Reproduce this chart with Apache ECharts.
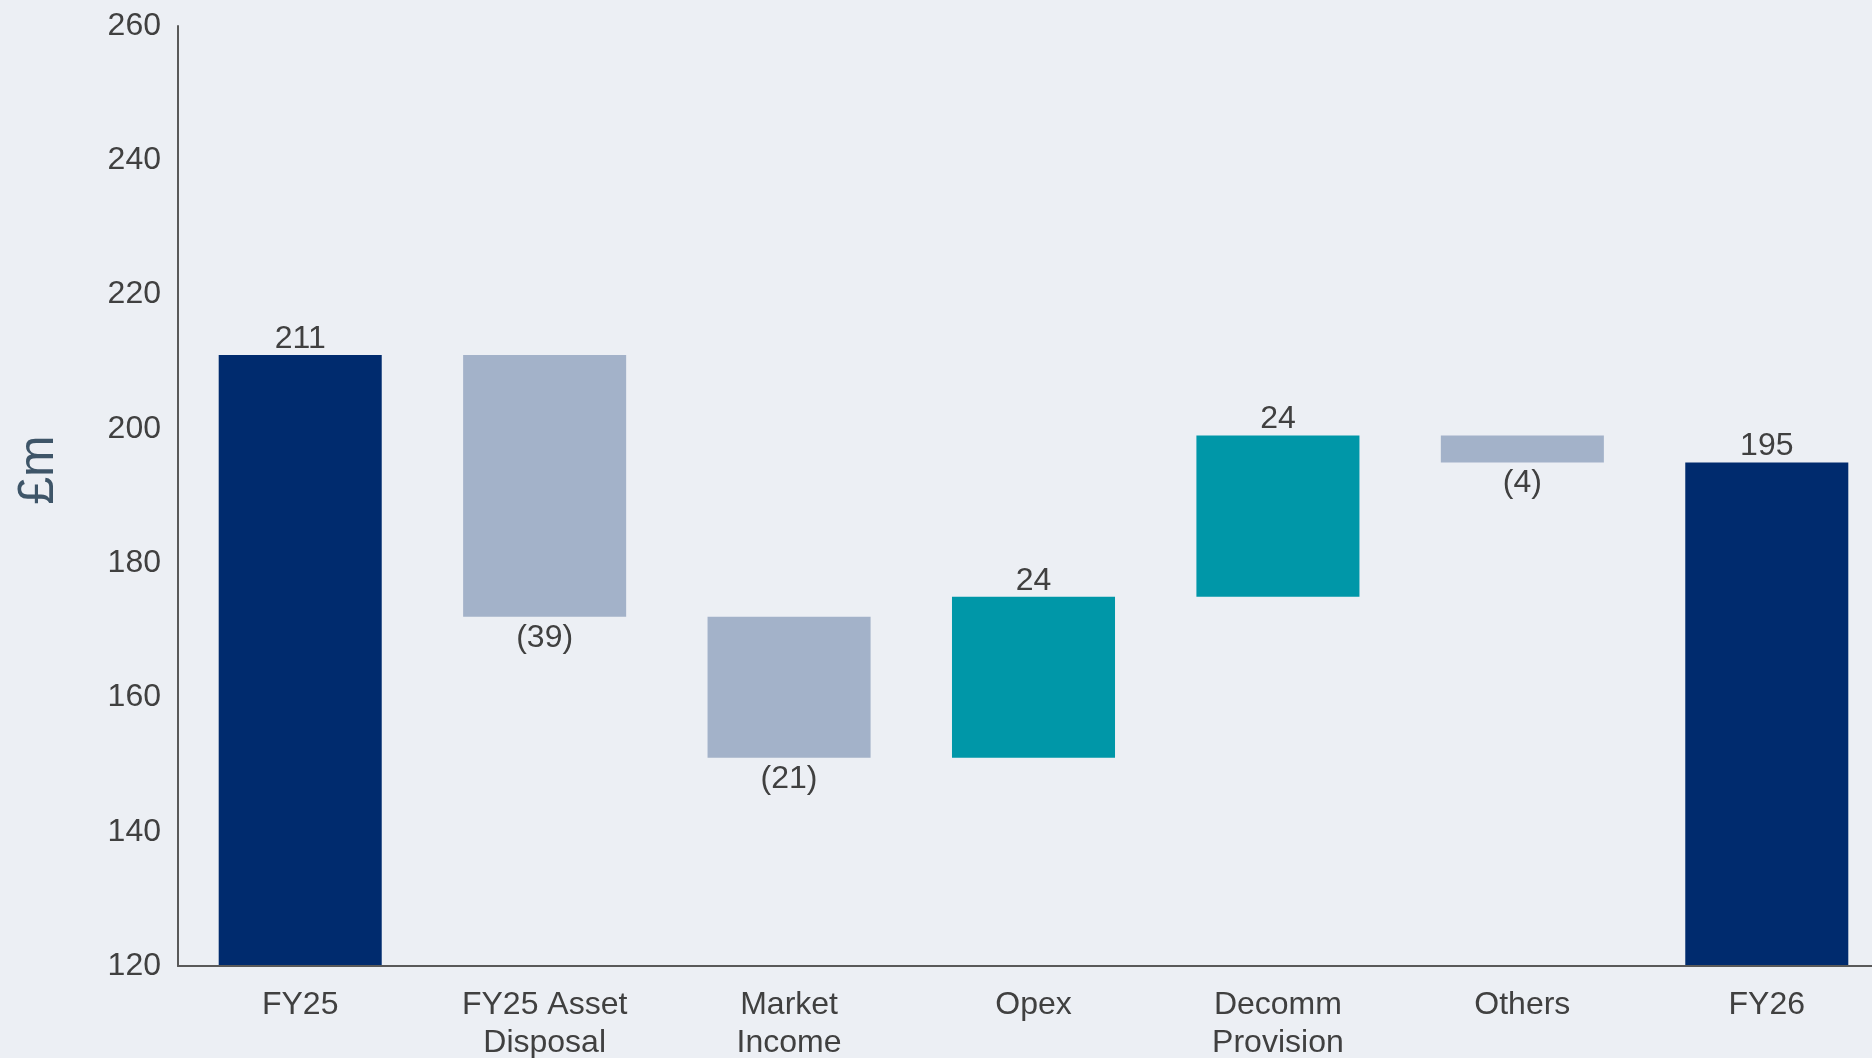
<!DOCTYPE html>
<html>
<head>
<meta charset="utf-8">
<title>FY25 to FY26 bridge (£m)</title>
<script src="https://cdn.jsdelivr.net/npm/echarts@6/dist/echarts.min.js"></script>
<style>
  html, body { margin: 0; padding: 0; background: #eceff4; }
  #chart { width: 1872px; height: 1058px; }
</style>
</head>
<body>
<div id="chart"></div>
<script>
// Bridge steps, in £m
const categories = ['FY25', 'FY25 Asset\nDisposal', 'Market\nIncome', 'Opex', 'Decomm\nProvision', 'Others', 'FY26'];
const changes = [211, -39, -21, 24, 24, -4, 195];
const stepKinds = ['total', 'step', 'step', 'step', 'step', 'step', 'total'];
const yTicks = { min: 120, max: 260, interval: 20 };
const unitLabel = '£m';

const COLORS = { total: '#002b6e', up: '#0097a8', down: '#a3b2c9' };
const TEXT = '#404040';
const FONT = '"Liberation Sans", Arial, sans-serif';

// Labels sit on top of rising/total bars and under falling ones
const topLabel = { position: 'top', distance: 0 };
const bottomLabel = { position: 'bottom', distance: 5 };

// Build the invisible base and the visible floating part of each bar
const baseData = [];
const barData = [];
let running = 0;
changes.forEach((v, i) => {
  if (stepKinds[i] === 'total') {
    running = v;
    baseData.push(0);
    barData.push({ value: v, change: v, itemStyle: { color: COLORS.total }, label: topLabel });
  } else {
    const next = running + v;
    baseData.push(Math.min(running, next));
    barData.push({ value: Math.abs(v), change: v,
      itemStyle: { color: v < 0 ? COLORS.down : COLORS.up },
      label: v < 0 ? bottomLabel : topLabel });
    running = next;
  }
});

const chart = echarts.init(document.getElementById('chart'), null, { renderer: 'canvas' });
chart.setOption({
  backgroundColor: '#eceff4',
  animation: false,
  // the last category band runs a little past the right edge of the page
  grid: { left: 178, right: -17, top: 26, bottom: 92, containLabel: false, outerBoundsMode: 'none' },
  graphic: [{
    type: 'text',
    x: 39,
    y: 470,
    rotation: Math.PI / 2,
    style: {
      text: unitLabel,
      fill: '#3e5568',
      font: '50px ' + FONT,
      textAlign: 'center',
      textVerticalAlign: 'middle'
    }
  }],
  xAxis: {
    type: 'category',
    data: categories,
    z: 5,
    axisLine: { show: true, lineStyle: { color: '#595959', width: 2 } },
    axisTick: { show: false },
    axisLabel: { color: TEXT, fontSize: 32, fontFamily: FONT, lineHeight: 38, margin: 20, interval: 0 }
  },
  yAxis: {
    type: 'value',
    min: yTicks.min,
    max: yTicks.max,
    interval: yTicks.interval,
    axisLine: { show: true, lineStyle: { color: '#595959', width: 2 } },
    axisTick: { show: false },
    splitLine: { show: false },
    axisLabel: { color: TEXT, fontSize: 32, fontFamily: FONT, margin: 17 }
  },
  series: [
    {
      type: 'bar',
      stack: 'bridge',
      barWidth: '66.7%',
      itemStyle: { color: 'transparent' },
      emphasis: { disabled: true },
      silent: true,
      data: baseData
    },
    {
      type: 'bar',
      stack: 'bridge',
      barWidth: '66.7%',
      data: barData,
      label: {
        show: true,
        color: TEXT,
        fontSize: 32,
        fontFamily: FONT,
        formatter: p => {
          const c = p.data.change;
          return c < 0 ? '(' + Math.abs(c) + ')' : String(c);
        }
      }
    }
  ]
});
</script>
</body>
</html>
